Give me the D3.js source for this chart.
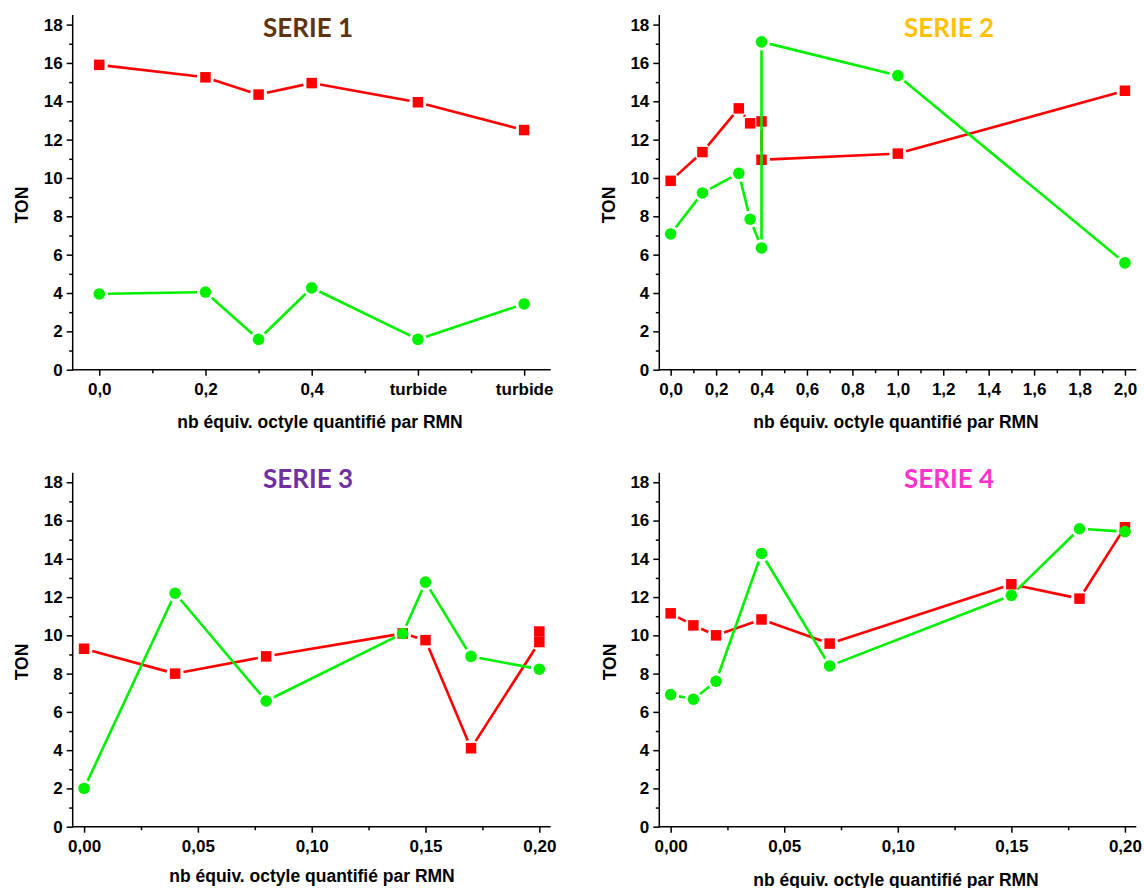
<!DOCTYPE html>
<html><head><meta charset="utf-8">
<script src="https://cdn.jsdelivr.net/npm/d3@7"></script>
<style>
html,body{margin:0;padding:0;background:#fff;}
svg{display:block;}
</style></head>
<body>
<svg id="chart" width="1144" height="888"></svg>
<script>
// ---------- DATA ----------
const yTicks = [0,2,4,6,8,10,12,14,16,18];
const yTickLabels = ["0","2","4","6","8","10","12","14","16","18"];
const yMinorTicks = [1,3,5,7,9,11,13,15,17];

// Serie 1
const s1Ticks = [0,0.2,0.4,0.6,0.8];
const s1TickLabels = ["0,0","0,2","0,4","turbide","turbide"];
const s1Minor = [0.1,0.3,0.5,0.7];
const s1X = [0,0.2,0.3,0.4,0.6,0.8];
const s1Red = [15.9,15.25,14.35,14.95,13.95,12.5];
const s1Green = [3.95,4.05,1.58,4.27,1.58,3.43];

// Serie 2
const s2Ticks = [0,0.2,0.4,0.6,0.8,1.0,1.2,1.4,1.6,1.8,2.0];
const s2TickLabels = ["0,0","0,2","0,4","0,6","0,8","1,0","1,2","1,4","1,6","1,8","2,0"];
const s2Minor = [0.1,0.3,0.5,0.7,0.9,1.1,1.3,1.5,1.7,1.9];
const s2X = [0,0.14,0.3,0.35,0.4,0.4,1.0,2.0];
const s2Red = [9.85,11.35,13.63,12.85,12.95,10.95,11.27,14.55];
const s2Green = [7.08,9.22,10.24,7.85,6.35,17.1,15.34,5.57];

// Serie 3
const s34Ticks = [0,0.05,0.10,0.15,0.20];
const s34TickLabels = ["0,00","0,05","0,10","0,15","0,20"];
const s34Minor = [0.025,0.075,0.125,0.175];
const s3XRed = [0,0.04,0.08,0.14,0.15,0.17,0.20,0.20];
const s3Red = [9.3,8.0,8.9,10.1,9.75,4.1,9.65,10.2];
const s3XGreen = [0,0.04,0.08,0.14,0.15,0.17,0.20];
const s3Green = [2.0,12.2,6.57,10.1,12.78,8.9,8.23];

// Serie 4
const s4X = [0,0.01,0.02,0.04,0.07,0.15,0.18,0.20];
const s4Red = [11.15,10.52,10.0,10.83,9.57,12.67,11.92,15.65];
const s4Green = [6.9,6.66,7.6,14.28,8.4,12.09,15.57,15.42];

const titles = ["SERIE 1","SERIE 2","SERIE 3","SERIE 4"];
const titleColors = ["#5E3410","#FFC000","#7030A0","#FF33CC"];
const xTitle = "nb équiv. octyle quantifié par RMN";
const yTitle = "TON";

// ---------- LAYOUT ----------
const RED = "#FF0000", GREEN = "#00F000";
const panels = [
  {title:0, left:72.7, right:550.7, top:15, bottom:369.7, xDom:[-0.05,0.85], ticks:s1Ticks, labels:s1TickLabels, minor:s1Minor,
   red:{x:s1X,y:s1Red}, green:{x:s1X,y:s1Green}, titleX:308, titleY:37.3, xtX:320, xtY:428.3, ytX:22, ytY:205},
  {title:1, left:659.3, right:1136.3, top:15, bottom:369.7, xDom:[-0.05,2.05], ticks:s2Ticks, labels:s2TickLabels, minor:s2Minor,
   red:{x:s2X,y:s2Red}, green:{x:s2X,y:s2Green}, titleX:949, titleY:37.3, xtX:896, xtY:428.3, ytX:609, ytY:205},
  {title:2, left:72.7, right:550.7, top:472.7, bottom:826.7, xDom:[-0.005,0.205], ticks:s34Ticks, labels:s34TickLabels, minor:s34Minor,
   red:{x:s3XRed,y:s3Red}, green:{x:s3XGreen,y:s3Green}, titleX:308, titleY:488.3, xtX:312, xtY:882, ytX:22, ytY:662},
  {title:3, left:659.3, right:1136.3, top:472.7, bottom:826.7, xDom:[-0.005,0.205], ticks:s34Ticks, labels:s34TickLabels, minor:s34Minor,
   red:{x:s4X,y:s4Red}, green:{x:s4X,y:s4Green}, titleX:949, titleY:487.7, xtX:896, xtY:885.5, ytX:610, ytY:662}
];

const svg = d3.select("#chart");
const tickFont = "'Liberation Sans', Arial, sans-serif";

function shortenedSegments(pts, gap){
  const segs = [];
  for(let i=0;i<pts.length-1;i++){
    const [x1,y1]=pts[i], [x2,y2]=pts[i+1];
    const dx=x2-x1, dy=y2-y1, d=Math.hypot(dx,dy);
    if(d<=2*gap) continue;
    const ux=dx/d, uy=dy/d;
    segs.push([[x1+ux*gap,y1+uy*gap],[x2-ux*gap,y2-uy*gap]]);
  }
  return segs;
}

panels.forEach(p=>{
  const g = svg.append("g");
  const x = d3.scaleLinear().domain(p.xDom).range([p.left,p.right]);
  const y = d3.scaleLinear().domain([0,18.5]).range([p.bottom,p.top]);

  // Y axis major
  const yAx = d3.axisLeft(y).tickValues(yTicks).tickSize(6).tickPadding(4)
    .tickFormat((d,i)=>yTickLabels[i]);
  const ya = g.append("g").attr("transform",`translate(${p.left},0)`).call(yAx);
  ya.select(".domain").remove();
  ya.selectAll(".tick line").attr("stroke","#000").attr("stroke-width",1.5);
  ya.selectAll(".tick text").attr("font-family",tickFont).attr("font-weight","bold")
    .attr("font-size","17px").attr("fill","#000");
  // Y minor
  const ym = g.append("g").attr("transform",`translate(${p.left},0)`)
    .call(d3.axisLeft(y).tickValues(yMinorTicks).tickSize(3.5).tickFormat(""));
  ym.select(".domain").remove();
  ym.selectAll(".tick line").attr("stroke","#000").attr("stroke-width",1.5);

  // X axis major
  const xAx = d3.axisBottom(x).tickValues(p.ticks).tickSize(6).tickPadding(7)
    .tickFormat((d,i)=>p.labels[i]);
  const xa = g.append("g").attr("transform",`translate(0,${p.bottom})`).call(xAx);
  xa.select(".domain").remove();
  xa.selectAll(".tick line").attr("stroke","#000").attr("stroke-width",1.5);
  xa.selectAll(".tick text").attr("font-family",tickFont).attr("font-weight","bold")
    .attr("font-size","17px").attr("fill","#000");
  const xm = g.append("g").attr("transform",`translate(0,${p.bottom})`)
    .call(d3.axisBottom(x).tickValues(p.minor).tickSize(3.5).tickFormat(""));
  xm.select(".domain").remove();
  xm.selectAll(".tick line").attr("stroke","#000").attr("stroke-width",1.5);

  // axis lines
  g.append("line").attr("x1",p.left).attr("x2",p.left).attr("y1",p.top).attr("y2",p.bottom+0.75)
    .attr("stroke","#000").attr("stroke-width",1.5);
  g.append("line").attr("x1",p.left-0.75).attr("x2",p.right).attr("y1",p.bottom).attr("y2",p.bottom)
    .attr("stroke","#000").attr("stroke-width",1.5);

  // series
  const drawSeries = (s, color, shape)=>{
    const pts = s.x.map((v,i)=>[x(v), y(s.y[i])]);
    const segs = shortenedSegments(pts, 8.5);
    g.append("g").selectAll("line").data(segs).join("line")
      .attr("x1",d=>d[0][0]).attr("y1",d=>d[0][1]).attr("x2",d=>d[1][0]).attr("y2",d=>d[1][1])
      .attr("stroke",color).attr("stroke-width",2.6).attr("stroke-linecap","butt");
    if(shape==="square"){
      const sz=10.5;
      g.append("g").selectAll("rect").data(pts).join("rect")
        .attr("x",d=>d[0]-sz/2).attr("y",d=>d[1]-sz/2).attr("width",sz).attr("height",sz)
        .attr("fill",color);
    } else {
      g.append("g").selectAll("circle").data(pts).join("circle")
        .attr("cx",d=>d[0]).attr("cy",d=>d[1]).attr("r",5.8).attr("fill",color);
    }
  };
  drawSeries(p.red, RED, "square");
  drawSeries(p.green, GREEN, "circle");

  // titles
  g.append("text").attr("x",p.titleX).attr("y",p.titleY).attr("text-anchor","middle")
    .attr("font-family","Lato, 'Open Sans', sans-serif").attr("font-weight","bold").attr("font-size","26px")
    .attr("fill",titleColors[p.title]).text(titles[p.title]);
  g.append("text").attr("x",p.xtX).attr("y",p.xtY).attr("text-anchor","middle")
    .attr("font-family",tickFont).attr("font-weight","bold").attr("font-size","17.5px")
    .attr("fill","#000").text(xTitle);
  g.append("text").attr("transform",`translate(${p.ytX},${p.ytY}) rotate(-90)`)
    .attr("text-anchor","middle").attr("dy","0.35em")
    .attr("font-family",tickFont).attr("font-weight","bold").attr("font-size","17.5px")
    .attr("fill","#000").text(yTitle);
});
</script>
</body></html>
